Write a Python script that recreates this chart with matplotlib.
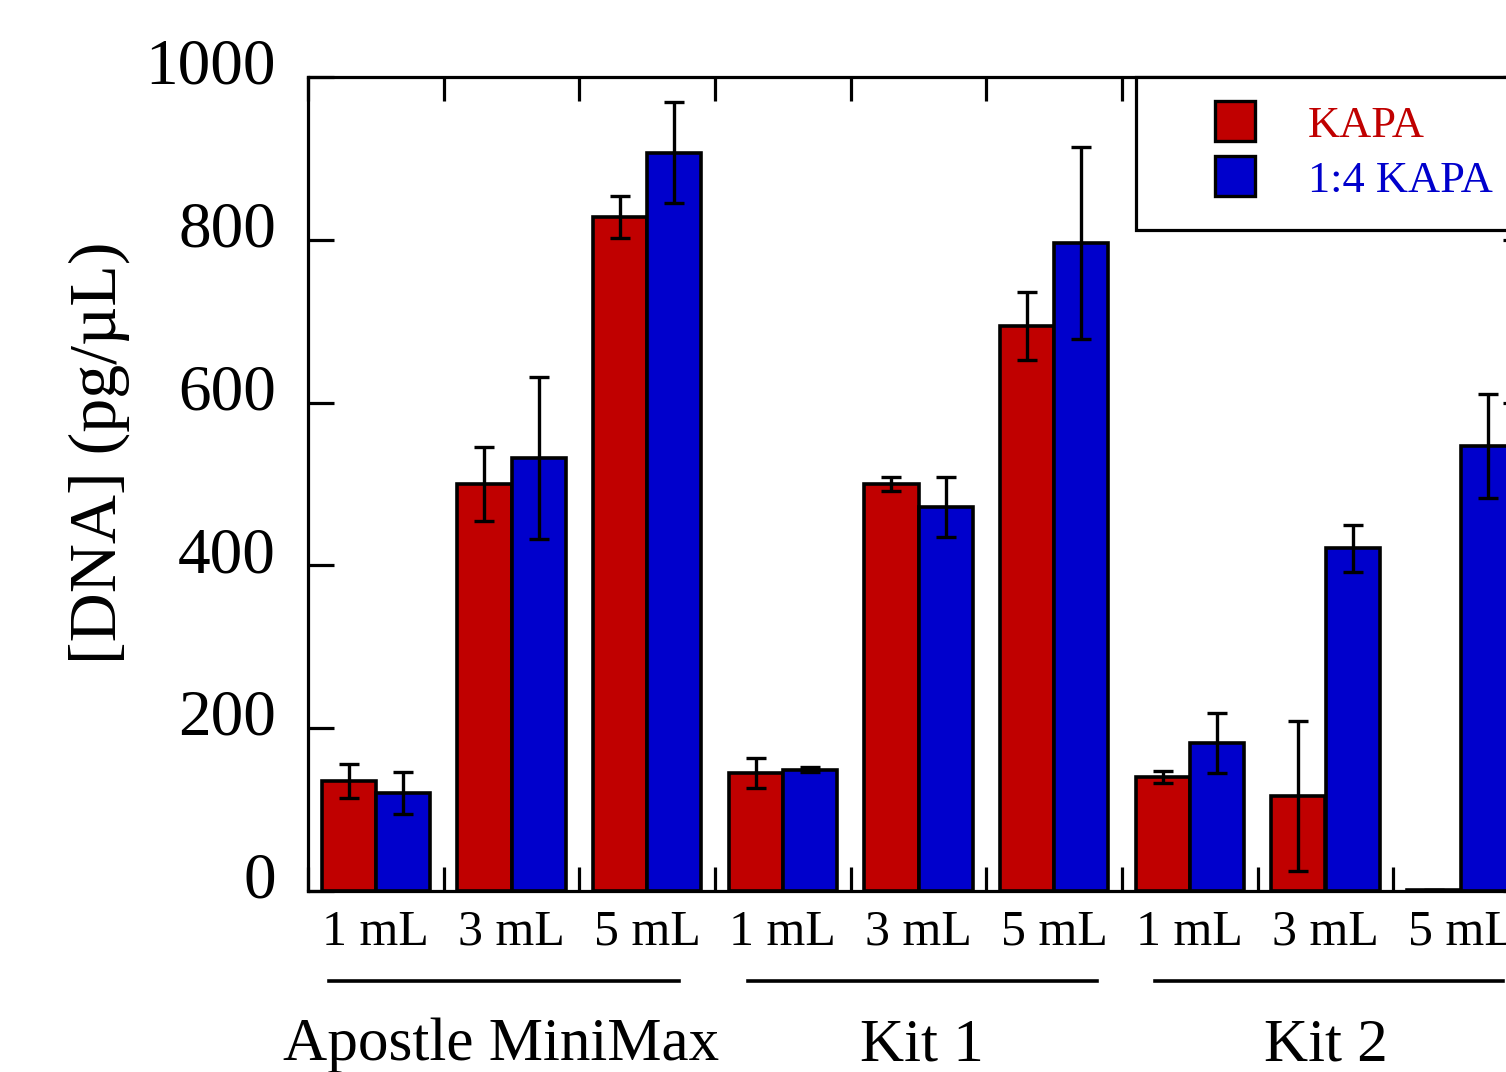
import matplotlib
matplotlib.use("Agg")
import matplotlib.pyplot as plt
import matplotlib.transforms as mtransforms
from matplotlib.lines import Line2D
import numpy as np

plt.rcParams['font.family'] = ['Liberation Serif', 'DejaVu Serif']
plt.rcParams['mathtext.fontset'] = 'stix'

# ---- data ----
groups = ["Apostle MiniMax", "Kit 1", "Kit 2"]
volumes = ["1 mL", "3 mL", "5 mL"]
series_names = ["KAPA", "1:4 KAPA"]
kapa = [135, 500, 828, 145, 500, 694, 140, 117, 1]
kapa_err = [21, 45, 26, 18, 8, 42, 7, 92, 0]
kapa14 = [120, 532, 907, 149, 472, 796, 182, 421, 547]
kapa14_err = [26, 99, 62, 3, 37, 118, 37, 29, 64]
yticks = [0, 200, 400, 600, 800, 1000]

red = "#C00000"
blue = "#0000CC"

fig = plt.figure(figsize=(15.06, 10.72), dpi=100)
ax = fig.add_axes([308/1506, 181/1072, 1221/1506, 814/1072])

n = len(kapa)
centers = np.arange(n) + 0.5
w = 0.4
ekw = dict(ecolor='black', elinewidth=2.4, capsize=7.5, capthick=2.4)
ax.bar(centers - w/2, kapa, w, color=red, edgecolor='black', linewidth=2.6,
       yerr=kapa_err, error_kw=ekw, zorder=2)
ax.bar(centers + w/2, kapa14, w, color=blue, edgecolor='black', linewidth=2.6,
       yerr=kapa14_err, error_kw=ekw, zorder=2)

ax.set_xlim(0, n)
ax.set_ylim(0, 1000)

for s in ax.spines.values():
    s.set_linewidth(2.3)

# y ticks
ax.set_yticks(yticks)
ax.set_yticklabels([str(v) for v in yticks])
ax.tick_params(axis='y', which='major', direction='in', length=19, width=2.3,
               labelsize=47, pad=23, left=True, right=True)
offset = mtransforms.ScaledTranslation(0, 16/100, fig.dpi_scale_trans)
for lab in ax.get_yticklabels():
    lab.set_transform(lab.get_transform() + offset)

# x ticks: boundaries (major), labels at centers (minor)
ax.set_xticks(np.arange(n + 1))
ax.set_xticklabels([])
ax.set_xticks(centers, minor=True)
ax.set_xticklabels(volumes * len(groups), minor=True)
ax.tick_params(axis='x', which='major', direction='in', length=17, width=2.3,
               top=True, bottom=True)
ax.tick_params(axis='x', which='minor', length=0, labelsize=36, pad=13)

# group lines & labels
trans = mtransforms.blended_transform_factory(ax.transData, ax.transAxes)
line_spans = [(0.155, 2.734), (3.24, 5.814), (6.24, 8.81)]
label_x = [1.426, 4.525, 7.5]
for g, name in enumerate(groups):
    x0, x1 = line_spans[g]
    ax.plot([x0, x1], [-0.1106, -0.1106], color='black',
            lw=2.6, transform=trans, clip_on=False)
    ax.text(label_x[g], -0.19, name, transform=trans, ha='center', va='center',
            fontsize=44)

ax.set_ylabel("[DNA] (pg/µL)", fontsize=49, va='center')
ax.yaxis.set_label_coords(-0.171, 0.539)

# legend
handles = [Line2D([], [], ls='none', marker='s', markersize=29,
                  markerfacecolor=c, markeredgecolor='black', markeredgewidth=2.4)
           for c in (red, blue)]
leg = ax.legend(handles, series_names, loc='upper left',
                bbox_to_anchor=(828/1221, 1.0), borderaxespad=0,
                fontsize=32, frameon=True, fancybox=False, framealpha=1,
                borderpad=0.65, labelspacing=0.33, handlelength=3.17,
                handletextpad=0.05)
leg.get_frame().set_edgecolor('black')
leg.get_frame().set_linewidth(2.3)
for t, c in zip(leg.get_texts(), (red, blue)):
    t.set_color(c)

fig.savefig("out.png", dpi=100)
